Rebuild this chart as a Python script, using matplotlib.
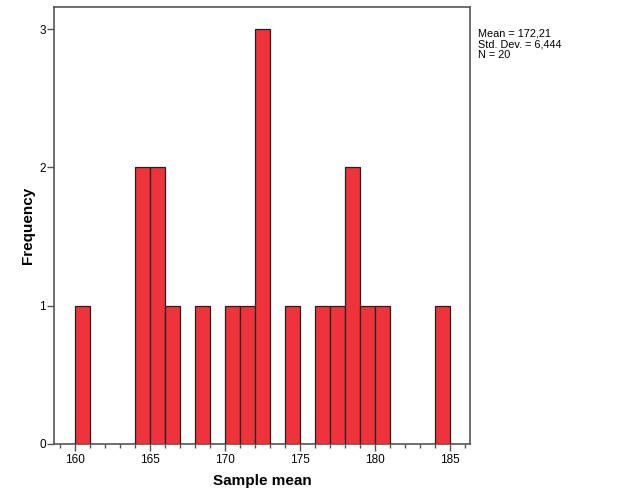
import numpy as np
import matplotlib
matplotlib.use("Agg")
import matplotlib.pyplot as plt
from matplotlib.ticker import MultipleLocator

plt.rcParams["font.family"] = ["Liberation Sans", "DejaVu Sans"]

# histogram bins (left edge, width 1) and frequencies
bin_left = [160, 164, 165, 166, 168, 170, 171, 172, 174, 176, 177, 178, 179, 180, 184]
counts = [1, 2, 2, 1, 1, 1, 1, 3, 1, 1, 1, 2, 1, 1, 1]
stats_lines = ["Mean = 172,21", "Std. Dev. = 6,444", "N = 20"]

BAR = "#EF333B"
FRAME = "#555555"

fig = plt.figure(figsize=(6.29, 5.04), dpi=100, facecolor="white")
ax = fig.add_axes([54 / 629, 60 / 504, 416 / 629, 437 / 504])

ax.bar(bin_left, counts, width=1, align="edge", color=BAR,
       edgecolor="#222222", linewidth=0.9, zorder=3)

ax.set_xlim(158.6, 186.33)
ax.set_ylim(0, 3.16)
ax.xaxis.set_major_locator(MultipleLocator(5))
ax.xaxis.set_minor_locator(MultipleLocator(1))
ax.yaxis.set_major_locator(MultipleLocator(1))

for s in ax.spines.values():
    s.set_color(FRAME)
    s.set_linewidth(1.2)

ax.tick_params(axis="both", which="major", direction="out", length=5,
               color=FRAME, labelsize=8.5, width=1)
ax.tick_params(axis="x", which="minor", direction="out", length=3,
               color=FRAME, width=1)
ax.tick_params(axis="x", pad=2)
ax.tick_params(axis="y", pad=1)

ax.set_xlabel("Sample mean", fontsize=11, fontweight="bold", labelpad=6)
ax.set_ylabel("Frequency", fontsize=11, fontweight="bold", labelpad=3)

fig.text(478 / 629, 1 - 29 / 504, "\n".join(stats_lines), fontsize=7.8,
         va="top", ha="left", linespacing=1.08)

fig.savefig("out.png", dpi=100, facecolor="white")
